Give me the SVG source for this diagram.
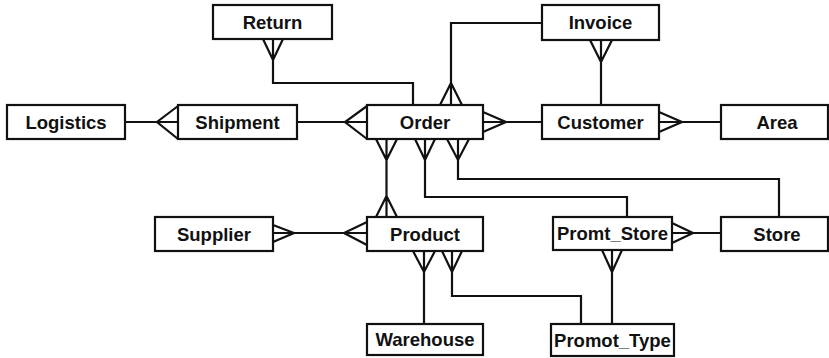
<svg xmlns="http://www.w3.org/2000/svg" width="829" height="358" viewBox="0 0 829 358">
<style>
.box{fill:#fff;stroke:#111;stroke-width:2.2}
.lbl{font-family:"Liberation Sans",Arial,sans-serif;font-weight:bold;font-size:18.5px;fill:#111;text-anchor:middle}
.ln{fill:none;stroke:#111;stroke-width:2.2;stroke-linejoin:miter}
</style>
<rect width="829" height="358" fill="#fff"/>
<g id="connectors">
<path class="ln" d="M273,39 V83 H413 V105 M263,39 L273,60 L283,39"/>
<path class="ln" d="M542,23 H451 V105 M440,105 L451,83 L462,105"/>
<path class="ln" d="M601,40 V105 M590,40 L601,62 L612,40"/>
<path class="ln" d="M125,122 H178 M178,106 L157,122 L178,139"/>
<path class="ln" d="M297,122 H367 M367,106 L345,122 L367,139"/>
<path class="ln" d="M483,122 H542 M483,112 L506,122 L483,132"/>
<path class="ln" d="M659,122 H721 M659,112 L682,122 L659,132"/>
<path class="ln" d="M386.5,139 V217 M376,139 L386.5,160 L397,139 M376,217 L386.5,196 L397,217"/>
<path class="ln" d="M425,139 V197 H627 V217 M415,139 L425,160 L435,139"/>
<path class="ln" d="M458,139 V179 H779 V217 M447,139 L458,160 L469,139"/>
<path class="ln" d="M273,233 H367 M273,225 L294,233 L273,242 M367,222 L344,233 L367,245"/>
<path class="ln" d="M424,251 V324 M413,251 L424,272 L435,251"/>
<path class="ln" d="M452,251 V296 H581 V324 M442,251 L452,272 L462,251"/>
<path class="ln" d="M672,233 H721 M672,223 L693,233 L672,243"/>
<path class="ln" d="M612,250 V324 M602,250 L612,272 L622,250"/>
</g>
<g id="return"><rect class="box" x="213" y="5" width="119" height="34"/><text class="lbl" x="272.5" y="28.5">Return</text></g>
<g id="invoice"><rect class="box" x="542" y="5" width="117" height="35"/><text class="lbl" x="600.5" y="29">Invoice</text></g>
<g id="logistics"><rect class="box" x="7" y="105" width="118" height="34"/><text class="lbl" x="66" y="128.5">Logistics</text></g>
<g id="shipment"><rect class="box" x="178" y="105" width="119" height="34"/><text class="lbl" x="237.5" y="128.5">Shipment</text></g>
<g id="order"><rect class="box" x="367" y="105" width="116" height="34"/><text class="lbl" x="425" y="128.5">Order</text></g>
<g id="customer"><rect class="box" x="542" y="105" width="117" height="34"/><text class="lbl" x="600.5" y="128.5">Customer</text></g>
<g id="area"><rect class="box" x="721" y="105" width="107" height="34"/><text class="lbl" x="777" y="128.5">Area</text></g>
<g id="supplier"><rect class="box" x="155" y="217" width="118" height="34"/><text class="lbl" x="214" y="240.5">Supplier</text></g>
<g id="product"><rect class="box" x="367" y="217" width="116" height="34"/><text class="lbl" x="425" y="240.5">Product</text></g>
<g id="promt_store"><rect class="box" x="553" y="217" width="119" height="33"/><text class="lbl" x="612.5" y="240">Promt_Store</text></g>
<g id="store"><rect class="box" x="721" y="217" width="107" height="34"/><text class="lbl" x="777" y="240.5">Store</text></g>
<g id="warehouse"><rect class="box" x="367" y="324" width="116" height="31"/><text class="lbl" x="425" y="346">Warehouse</text></g>
<g id="promot_type"><rect class="box" x="551" y="324" width="123" height="32"/><text class="lbl" x="612.5" y="346.5">Promot_Type</text></g>
</svg>
